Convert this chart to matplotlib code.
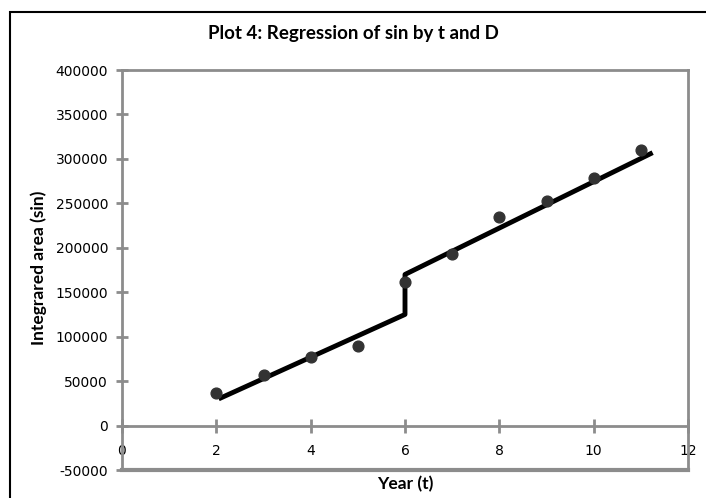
import numpy as np
import matplotlib.pyplot as plt
from matplotlib.patches import Rectangle

plt.rcParams['axes.unicode_minus'] = False

# observed data points
year = [2, 3, 4, 5, 6, 7, 8, 9, 10, 11]
area = [37000, 57000, 77000, 90000, 161000, 193000, 235000, 253000, 279000, 310000]

# regression fit (with jump at D)
fit_t = [2.05, 6.0, 6.0, 11.25]
fit_y = [30000, 125000, 170000, 307000]

xticks = [0, 2, 4, 6, 8, 10, 12]
yticks = [-50000, 0, 50000, 100000, 150000, 200000, 250000, 300000, 350000, 400000]

fig = plt.figure(figsize=(7.06, 4.98), dpi=100)
ax = fig.add_axes([122/706, 28/498, 566/706, 400/498])

ax.plot(fit_t, fit_y, color='black', lw=3.5, solid_capstyle='butt', zorder=2)
ax.scatter(year, area, s=60, color='#333333', zorder=3)

ax.set_xlim(0, 12)
ax.set_ylim(-50000, 400000)
ax.set_xticks(xticks)
ax.set_yticks(yticks)

grey = '#8c8c8c'
for s in ['left', 'right', 'top']:
    ax.spines[s].set_color(grey)
    ax.spines[s].set_linewidth(2)
ax.spines['bottom'].set_position(('data', 0))
ax.spines['bottom'].set_color(grey)
ax.spines['bottom'].set_linewidth(2)
ax.axhline(-50000, color=grey, lw=3, clip_on=False)

ax.tick_params(axis='x', direction='inout', length=10, width=2, color=grey, pad=8,
               labelsize=10, labelfontfamily='DejaVu Sans')
ax.tick_params(axis='y', direction='inout', length=8, width=2, color=grey, pad=6,
               labelsize=10, labelfontfamily='DejaVu Sans')

fig.text(0.5, 1 - 34/498, 'Plot 4: Regression of sin by t and D', ha='center', va='center',
         fontsize=13.5, fontweight='bold', family='Lato')
fig.text(405/706, 1 - 484/498, 'Year (t)', ha='center', va='center',
         fontsize=12.5, fontweight='bold', family='Lato')
fig.text(39/706, 1 - 268/498, 'Integrared area (sin)', ha='center', va='center', rotation=90,
         fontsize=12.5, fontweight='bold', family='Lato')

# outer chart border
fig.patches.append(Rectangle((10/706, -0.1), 1.0, 1 - 12/498 + 0.1, transform=fig.transFigure,
                             fill=False, edgecolor='black', lw=1.5))

fig.savefig('out.png', dpi=100)
